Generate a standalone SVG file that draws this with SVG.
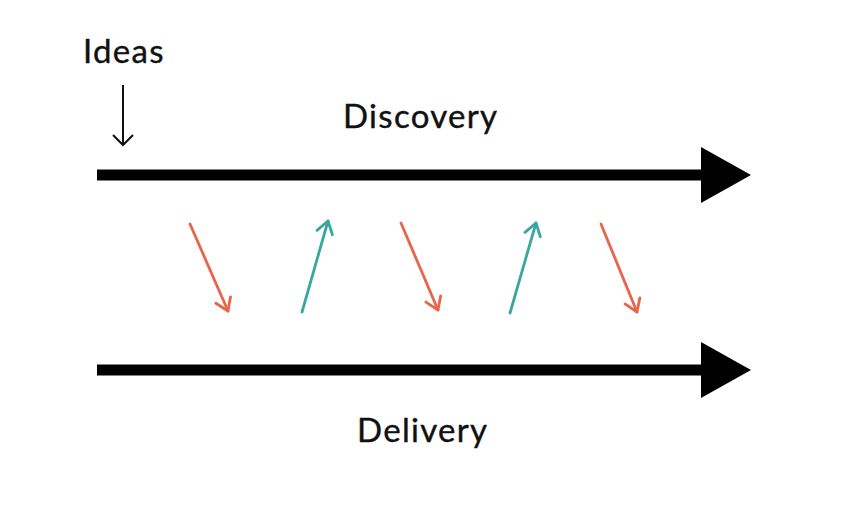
<svg xmlns="http://www.w3.org/2000/svg" width="858" height="518" viewBox="0 0 858 518">
<style>
.lbl{font-family:Lato,"Open Sans","Liberation Sans",sans-serif;font-size:33px;letter-spacing:1.3px;fill:#111;stroke:#111;stroke-width:0.4px;}
.main{stroke:#000;stroke-width:11;fill:none;}
.or{stroke:#E8654A;stroke-width:2.8;fill:none;stroke-linecap:round;}
.te{stroke:#3AA6A0;stroke-width:2.8;fill:none;stroke-linecap:round;}
</style>
<defs>
<marker id="tri" markerUnits="userSpaceOnUse" viewBox="0 0 50 56" refX="0" refY="28" markerWidth="50" markerHeight="56" orient="auto">
<path d="M0,0 L50,28 L0,56 Z" fill="#000"/>
</marker>
<marker id="chevO" markerUnits="userSpaceOnUse" viewBox="-14 -10 16 20" refX="0" refY="0" markerWidth="16" markerHeight="20" orient="auto">
<path d="M-12,-8 L0,0 L-12,8" fill="none" stroke="#E8654A" stroke-width="2.8" stroke-linecap="round" stroke-linejoin="round"/>
</marker>
<marker id="chevT" markerUnits="userSpaceOnUse" viewBox="-14 -10 16 20" refX="0" refY="0" markerWidth="16" markerHeight="20" orient="auto">
<path d="M-12,-8 L0,0 L-12,8" fill="none" stroke="#3AA6A0" stroke-width="2.8" stroke-linecap="round" stroke-linejoin="round"/>
</marker>
</defs>
<rect width="858" height="518" fill="#fff"/>
<g id="ideas">
<text class="lbl" x="83" y="63">Ideas</text>
</g>
<g id="discovery">
<text class="lbl" x="343" y="128">Discovery</text>
</g>
<g id="delivery">
<text class="lbl" x="357" y="442">Delivery</text>
</g>
<g id="connectors">
<line x1="123" y1="85" x2="123" y2="145" stroke="#111" stroke-width="2"/>
<path d="M113,135 L123,145 L133,135" fill="none" stroke="#111" stroke-width="2" stroke-linejoin="miter"/>
<line class="main" x1="97" y1="175" x2="701" y2="175" marker-end="url(#tri)"/>
<line class="main" x1="97" y1="370" x2="701" y2="370" marker-end="url(#tri)"/>
<line class="or" x1="190" y1="224" x2="228" y2="311" marker-end="url(#chevO)"/>
<line class="or" x1="401" y1="223" x2="438" y2="310" marker-end="url(#chevO)"/>
<line class="or" x1="601" y1="224" x2="637" y2="312" marker-end="url(#chevO)"/>
<line class="te" x1="302" y1="312" x2="328" y2="221" marker-end="url(#chevT)"/>
<line class="te" x1="510" y1="313" x2="536" y2="223" marker-end="url(#chevT)"/>
</g>
</svg>
